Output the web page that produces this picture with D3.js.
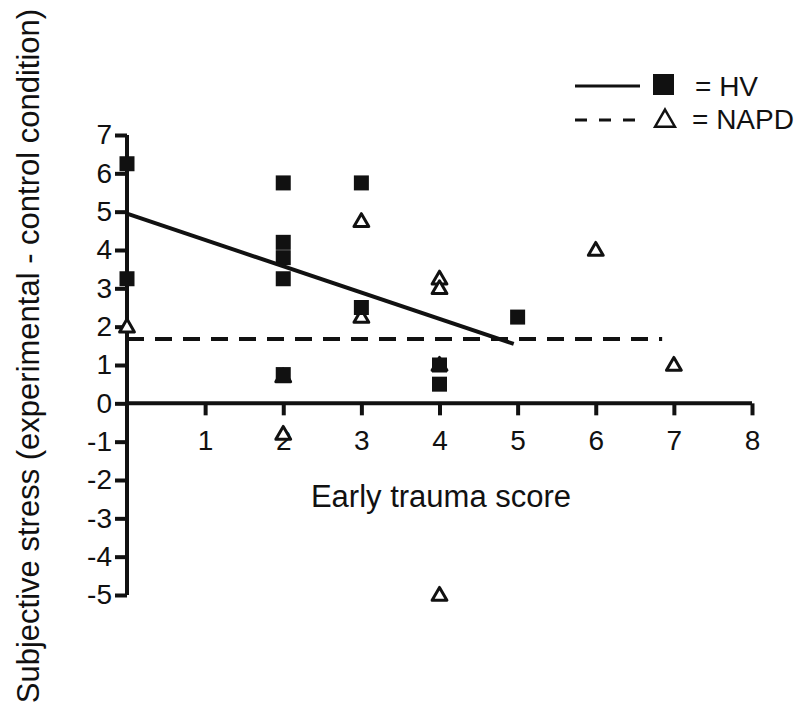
<!DOCTYPE html>
<html>
<head>
<meta charset="utf-8">
<script src="https://cdn.jsdelivr.net/npm/d3@7"></script>
<style>
body { margin: 0; background: #fff; }
svg text { font-family: "Liberation Sans", Arial, sans-serif; fill: #111; }
</style>
</head>
<body>
<script>
// values
var hvX = [0, 0, 2, 2, 2, 2, 2, 3, 3, 4, 4, 5];
var hvY = [6.25, 3.25, 5.75, 4.2, 3.8, 3.25, 0.75, 5.75, 2.5, 1.0, 0.5, 2.25];
var napdX = [0, 2, 2, 3, 3, 4, 4, 4, 4, 6, 7];
var napdY = [2.0, 0.7, -0.8, 4.75, 2.25, 3.25, 3.0, 1.0, -5.0, 4.0, 1.0];
var hvFit = [[0, 4.95], [4.95, 1.55]];
var napdFit = [[0, 1.68], [6.85, 1.68]];
var xTicks = [1, 2, 3, 4, 5, 6, 7, 8];
var yTicks = [-5, -4, -3, -2, -1, 0, 1, 2, 3, 4, 5, 6, 7];
var legendLabels = ["= HV", "= NAPD"];

var width = 806, height = 709;
var svg = d3.select("body").append("svg").attr("width", width).attr("height", height);

var x = d3.scaleLinear().domain([0, 8]).range([127, 752]);
var y = d3.scaleLinear().domain([-5, 7]).range([595, 135]);

// plain hyphen for negatives, like the original
var fmt = function (d) { return String(d); };

// x axis sits at y = 0
var xAxis = svg.append("g").attr("transform", "translate(0," + y(0) + ")")
    .call(d3.axisBottom(x).tickValues(xTicks).tickFormat(fmt).tickSize(12).tickPadding(15).tickSizeOuter(0));
xAxis.select(".domain").attr("stroke", "#111").attr("stroke-width", 4).attr("d", "M" + x(0) + ",0H" + x(8));
xAxis.selectAll(".tick line").attr("stroke", "#111").attr("stroke-width", 4);
xAxis.selectAll(".tick text").attr("font-size", 28).attr("font-family", "Liberation Sans, Arial, sans-serif").attr("fill", "#111");

var yAxis = svg.append("g").attr("transform", "translate(" + x(0) + ",0)")
    .call(d3.axisLeft(y).tickValues(yTicks).tickFormat(fmt).tickSize(12).tickPadding(3).tickSizeOuter(0));
yAxis.select(".domain").attr("stroke", "#111").attr("stroke-width", 4).attr("d", "M0," + y(7) + "V" + y(-5));
yAxis.selectAll(".tick line").attr("stroke", "#111").attr("stroke-width", 4);
yAxis.selectAll(".tick text").attr("font-size", 28).attr("font-family", "Liberation Sans, Arial, sans-serif").attr("fill", "#111");

// axis titles
svg.append("text").attr("x", 441).attr("y", 507).attr("text-anchor", "middle")
    .attr("font-size", 31).text("Early trauma score");
svg.append("text").attr("transform", "translate(39,356) rotate(-90)").attr("text-anchor", "middle")
    .attr("font-size", 31).text("Subjective stress (experimental - control condition)");

var tri = d3.symbol().type(d3.symbolTriangle).size(95);

// NAPD triangles
svg.append("g").selectAll("path")
    .data(napdX.map(function (d, i) { return [d, napdY[i]]; }))
    .enter().append("path")
    .attr("d", tri)
    .attr("transform", function (d) { return "translate(" + x(d[0]) + "," + (y(d[1]) + 1) + ")"; })
    .attr("fill", "#fff").attr("stroke", "#111").attr("stroke-width", 3).attr("stroke-linejoin", "round");

// HV squares
var sq = 15;
svg.append("g").selectAll("rect")
    .data(hvX.map(function (d, i) { return [d, hvY[i]]; }))
    .enter().append("rect")
    .attr("x", function (d) { return x(d[0]) - sq / 2; })
    .attr("y", function (d) { return y(d[1]) - sq / 2; })
    .attr("width", sq).attr("height", sq)
    .attr("fill", "#111");

var line = d3.line().x(function (d) { return x(d[0]); }).y(function (d) { return y(d[1]); });
svg.append("path").attr("d", line(hvFit)).attr("fill", "none").attr("stroke", "#111").attr("stroke-width", 4);
svg.append("path").attr("d", line(napdFit)).attr("fill", "none").attr("stroke", "#111").attr("stroke-width", 4)
    .attr("stroke-dasharray", "17,11");

// legend
var lg = svg.append("g");
lg.append("line").attr("x1", 575).attr("x2", 640).attr("y1", 86).attr("y2", 86)
    .attr("stroke", "#111").attr("stroke-width", 3);
lg.append("rect").attr("x", 653).attr("y", 74).attr("width", 21).attr("height", 21).attr("fill", "#111");
lg.append("text").attr("x", 695).attr("y", 96).attr("font-size", 28).text(legendLabels[0]);
lg.append("line").attr("x1", 575).attr("x2", 640).attr("y1", 120).attr("y2", 120)
    .attr("stroke", "#111").attr("stroke-width", 3).attr("stroke-dasharray", "12,12");
lg.append("path").attr("d", d3.symbol().type(d3.symbolTriangle).size(170))
    .attr("transform", "translate(665,121)")
    .attr("fill", "#fff").attr("stroke", "#111").attr("stroke-width", 2.5);
lg.append("text").attr("x", 692).attr("y", 129).attr("font-size", 28).text(legendLabels[1]);
</script>
</body>
</html>
